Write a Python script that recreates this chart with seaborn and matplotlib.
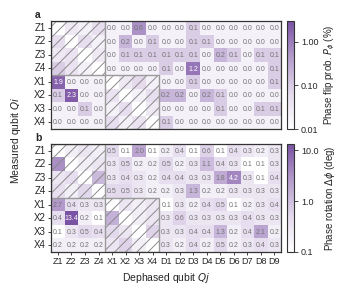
import numpy as np
import pandas as pd
import matplotlib
matplotlib.use("Agg")
import matplotlib.pyplot as plt
import seaborn as sns
from matplotlib.colors import LogNorm, LinearSegmentedColormap
from matplotlib.patches import Rectangle

sns.set_style("white")
plt.rcParams['font.family'] = ['Liberation Sans', 'DejaVu Sans']
plt.rcParams['hatch.color'] = '#8a8a8a'
plt.rcParams['hatch.linewidth'] = 0.7

cols = ["Z1", "Z2", "Z3", "Z4", "X1", "X2", "X3", "X4",
        "D1", "D2", "D3", "D4", "D5", "D6", "D7", "D8", "D9"]
rows = ["Z1", "Z2", "Z3", "Z4", "X1", "X2", "X3", "X4"]

# panel a: phase flip probability (%), hatched blocks are estimates (no text)
flip_Z1 = [np.nan, 0.03, 0.01, 0.05, 0.0, 0.0, 0.6, 0.0, 0.0, 0.0, 0.1, 0.0, 0.0, 0.0, 0.0, 0.0, 0.0]
flip_Z2 = [0.05, np.nan, 0.05, 0.02, 0.0, 0.2, 0.0, 0.1, 0.0, 0.0, 0.1, 0.1, 0.0, 0.0, 0.0, 0.0, 0.0]
flip_Z3 = [0.03, 0.04, np.nan, 0.03, 0.0, 0.1, 0.1, 0.1, 0.1, 0.1, 0.1, 0.0, 0.2, 0.1, 0.0, 0.1, 0.1]
flip_Z4 = [0.1, 0.04, 0.01, np.nan, 0.0, 0.0, 0.0, 0.0, 0.1, 0.0, 1.2, 0.0, 0.0, 0.0, 0.0, 0.0, 0.1]
flip_X1 = [1.9, 0.0, 0.0, 0.0, np.nan, 0.03, 0.06, 0.02, 0.0, 0.0, 0.1, 0.0, 0.0, 0.0, 0.0, 0.0, 0.1]
flip_X2 = [0.1, 2.3, 0.0, 0.0, 0.04, np.nan, 0.02, 0.05, 0.2, 0.2, 0.0, 0.2, 0.1, 0.0, 0.0, 0.0, 0.0]
flip_X3 = [0.0, 0.0, 0.1, 0.0, 0.02, 0.05, np.nan, 0.03, 0.0, 0.0, 0.0, 0.0, 0.1, 0.0, 0.0, 0.1, 0.1]
flip_X4 = [0.0, 0.0, 0.0, 0.0, 0.05, 0.02, 0.04, np.nan, 0.1, 0.0, 0.0, 0.0, 0.0, 0.0, 0.0, 0.0, 0.0]

# panel b: phase rotation (deg)
rot_Z1 = [np.nan, 0.2, 0.3, 0.2, 0.5, 0.1, 2.0, 0.1, 0.2, 0.4, 0.1, 0.6, 0.1, 0.4, 0.3, 0.2, 0.3]
rot_Z2 = [3.5, np.nan, 0.2, 0.3, 0.3, 0.5, 0.2, 0.2, 0.5, 0.2, 0.3, 1.1, 0.4, 0.3, 0.1, 0.1, 0.3]
rot_Z3 = [0.3, 0.4, np.nan, 1.2, 0.3, 0.4, 0.3, 0.2, 0.4, 0.4, 0.3, 0.3, 1.8, 4.2, 0.3, 0.1, 0.4]
rot_Z4 = [0.4, 0.2, 0.5, np.nan, 0.5, 0.5, 0.3, 0.2, 0.2, 0.3, 1.3, 0.2, 0.2, 0.3, 0.3, 0.3, 0.3]
rot_X1 = [2.7, 0.4, 0.3, 0.3, np.nan, 0.3, 0.2, 0.3, 0.1, 0.3, 0.2, 0.4, 0.5, 0.1, 0.2, 0.3, 0.4]
rot_X2 = [0.4, 13.4, 0.2, 0.1, 1.5, np.nan, 0.2, 0.3, 0.3, 0.6, 0.3, 0.3, 0.3, 0.3, 0.4, 0.3, 0.3]
rot_X3 = [0.1, 0.3, 0.5, 0.4, 0.5, 0.3, np.nan, 0.6, 0.3, 0.3, 0.4, 0.4, 1.3, 0.2, 0.4, 2.1, 0.2]
rot_X4 = [0.2, 0.2, 0.2, 0.2, 0.3, 0.6, 0.2, np.nan, 0.3, 0.2, 0.4, 0.2, 0.5, 0.2, 0.3, 0.4, 0.3]

flip = pd.DataFrame([flip_Z1, flip_Z2, flip_Z3, flip_Z4, flip_X1, flip_X2, flip_X3, flip_X4],
                    index=rows, columns=cols)
rot = pd.DataFrame([rot_Z1, rot_Z2, rot_Z3, rot_Z4, rot_X1, rot_X2, rot_X3, rot_X4],
                   index=rows, columns=cols)

purple = LinearSegmentedColormap.from_list("wp", ["#ffffff", "#e3d9ec", "#b49ccc", "#7a52a3"])
purple.set_bad("white")

fig = plt.figure(figsize=(3.48, 2.98), dpi=100)
ax_a = fig.add_axes([0.147, 0.567, 0.661, 0.362])
cax_a = fig.add_axes([0.825, 0.567, 0.02, 0.362])
ax_b = fig.add_axes([0.147, 0.155, 0.661, 0.362])
cax_b = fig.add_axes([0.825, 0.155, 0.02, 0.362])


def draw(ax, cax, df, vmin, vmax, floor, ticks, ticklabels, clabel):
    shown = df.clip(lower=floor)
    norm = LogNorm(vmin=vmin, vmax=vmax)
    sns.heatmap(shown, ax=ax, cmap=purple, norm=norm, cbar_ax=cax, annot=False,
                linewidths=0, square=False)
    # text in cells outside the diagonal blocks
    for i in range(len(rows)):
        for j in range(len(cols)):
            same = (i < 4 and j < 4) or (4 <= i < 8 and 4 <= j < 8)
            if same:
                continue
            v = df.iloc[i, j]
            c = "white" if norm(max(v, floor)) > 0.75 else "#747474"
            ax.text(j + 0.5, i + 0.55, f"{v:.1f}", ha="center", va="center",
                    fontsize=5.0, color=c)
    # hatched diagonal blocks with grey frames
    for k in (0, 4):
        ax.add_patch(Rectangle((k, k), 4, 4, fill=False, hatch="///",
                               edgecolor="#8a8a8a", linewidth=0))
        ax.add_patch(Rectangle((k, k), 4, 4, fill=False, edgecolor="#9a9a9a",
                               linewidth=1.0))
    for s in ax.spines.values():
        s.set_visible(True)
        s.set_color("#333333")
        s.set_linewidth(0.9)
    ax.set_yticks(np.arange(len(rows)) + 0.5)
    ax.set_yticklabels(rows, rotation=0, fontsize=7)
    ax.tick_params(axis="both", length=2.5, width=0.6, pad=1.5, left=True, bottom=True)
    ax.set_ylabel("")
    ax.set_xlabel("")
    cb = ax.collections[0].colorbar
    cb.set_ticks(ticks)
    cb.set_ticklabels(ticklabels)
    cb.ax.minorticks_off()
    cb.ax.tick_params(labelsize=6.5, length=3, width=0.6, pad=2)
    cb.outline.set_edgecolor("#333333")
    cb.outline.set_linewidth(0.8)
    cb.set_label(clabel, fontsize=7, labelpad=3)


draw(ax_a, cax_a, flip, 0.01, 3.0, 0.02, [0.01, 0.1, 1.0], ["0.01", "0.10", "1.00"],
     r"Phase flip prob. $P_\phi$ (%)")
draw(ax_b, cax_b, rot, 0.1, 13.4, 0.1, [0.1, 1.0, 10.0], ["0.1", "1.0", "10.0"],
     r"Phase rotation $\Delta\phi$ (deg)")

ax_a.set_xticks([])
ax_b.set_xticks(np.arange(len(cols)) + 0.5)
ax_b.set_xticklabels(cols, rotation=0, fontsize=6.5)
ax_b.set_xlabel(r"Dephased qubit $Qj$", fontsize=7.5, labelpad=3)

fig.text(0.045, 0.53, r"Measured qubit $Qi$", rotation=90, ha="center", va="center", fontsize=7.5)
fig.text(0.10, 0.948, "a", fontsize=7.5, fontweight="bold", ha="left", va="center")
fig.text(0.10, 0.537, "b", fontsize=7.5, fontweight="bold", ha="left", va="center")

fig.savefig("out.png", dpi=100)
